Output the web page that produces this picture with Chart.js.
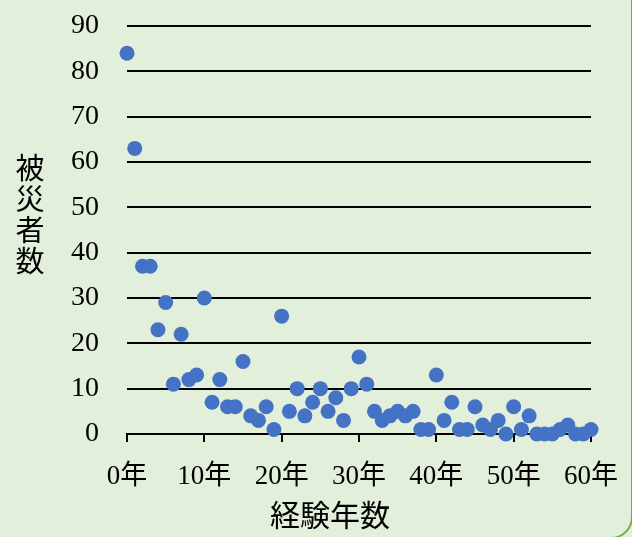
<!DOCTYPE html>
<html>
<head>
<meta charset="utf-8">
<script src="https://cdn.jsdelivr.net/npm/chart.js@4/dist/chart.umd.min.js"></script>
<style>
  html, body { margin: 0; padding: 0; width: 632px; height: 537px; overflow: hidden; background: #e2efda; }
  #frame {
    position: absolute; left: -20px; top: -20px; width: 649px; height: 555px;
    border: 2px solid #70ad47; border-radius: 22px; background: #e2efda;
  }
  #wrap { position: absolute; left: 0; top: 0; width: 632px; height: 537px; }
</style>
</head>
<body>
<div id="frame"></div>
<div id="wrap"><canvas id="chart" width="632" height="537"></canvas></div>
<script>
// 経験年数
const years = [
  0, 1, 2, 3, 4, 5, 6, 7, 8, 9,
  10, 11, 12, 13, 14, 15, 16, 17, 18, 19,
  20, 21, 22, 23, 24, 25, 26, 27, 28, 29,
  30, 31, 32, 33, 34, 35, 36, 37, 38, 39,
  40, 41, 42, 43, 44, 45, 46, 47, 48, 49,
  50, 51, 52, 53, 54, 55, 56, 57, 58, 59, 60
];
// 被災者数
const victims = [
  84, 63, 37, 37, 23, 29, 11, 22, 12, 13,
  30, 7, 12, 6, 6, 16, 4, 3, 6, 1,
  26, 5, 10, 4, 7, 10, 5, 8, 3, 10,
  17, 11, 5, 3, 4, 5, 4, 5, 1, 1,
  13, 3, 7, 1, 1, 6, 2, 1, 3, 0,
  6, 1, 4, 0, 0, 0, 1, 2, 0, 0, 1
];
const xTicks = [0, 10, 20, 30, 40, 50, 60];
const yTicks = [0, 10, 20, 30, 40, 50, 60, 70, 80, 90];
const yTitle = ["被", "災", "者", "数"];
const xTitle = "経験年数";

const serif = "'Liberation Serif', 'Noto Sans CJK JP', serif";

// 軸タイトル（縦書き）
const titles = {
  id: "titles",
  afterDraw(chart) {
    const ctx = chart.ctx;
    ctx.save();
    ctx.fillStyle = "#000";
    ctx.font = "29px " + serif;
    ctx.textAlign = "center";
    ctx.textBaseline = "middle";
    yTitle.forEach((c, i) => ctx.fillText(c, 30, 171 + i * 31));
    ctx.font = "30px " + serif;
    ctx.fillText(xTitle, 330, 518);
    ctx.restore();
  }
};

const chart = new Chart(document.getElementById("chart"), {
  type: "scatter",
  data: {
    datasets: [{
      label: "被災者数",
      data: years.map((y, i) => ({ x: y, y: victims[i] })),
      backgroundColor: "#4472c4",
      borderWidth: 0,
      pointRadius: 7.5,
      pointHoverRadius: 7.5,
      clip: false
    }]
  },
  options: {
    responsive: false,
    animation: false,
    layout: { padding: { left: 0, right: 41, top: 26, bottom: 0 } },
    plugins: { legend: { display: false }, tooltip: { enabled: false } },
    scales: {
      x: {
        type: "linear",
        min: 0, max: 60,
        afterBuildTicks: s => { s.ticks = xTicks.map(v => ({ value: v })); },
        afterFit: s => { s.height = 103; s.paddingLeft = 0; s.paddingRight = 0; },
        ticks: {
          callback: v => v + "年",
          color: "#000",
          font: { family: serif, size: 27 },
          padding: 19,
          maxRotation: 0
        },
        grid: { drawOnChartArea: false, drawTicks: true, tickLength: 8, color: "#000", lineWidth: 2 },
        border: { display: true, color: "#000", width: 2 }
      },
      y: {
        min: 0, max: 90,
        afterBuildTicks: s => { s.ticks = yTicks.map(v => ({ value: v })); },
        afterFit: s => { s.width = 127; s.paddingTop = 0; s.paddingBottom = 0; },
        ticks: {
          color: "#000",
          font: { family: serif, size: 28 },
          padding: 28
        },
        grid: { color: "#000", lineWidth: 2, drawTicks: false },
        border: { display: false }
      }
    }
  },
  plugins: [titles]
});
</script>
</body>
</html>
